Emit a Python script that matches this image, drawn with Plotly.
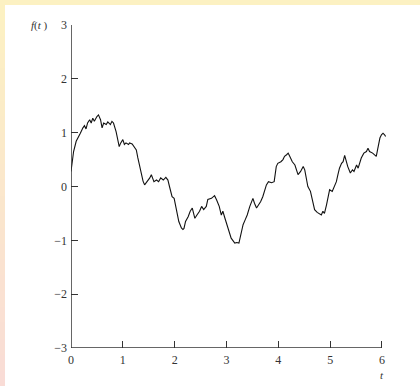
import plotly.graph_objects as go

# Sample path f(t) on 0 <= t <= 6
t_vals = [0.00, 0.05, 0.10, 0.14, 0.18, 0.23, 0.26, 0.29, 0.32, 0.36, 0.39, 0.42, 0.45,
          0.50, 0.53, 0.57, 0.60, 0.63, 0.68, 0.71, 0.76, 0.79, 0.82, 0.87, 0.90, 0.93,
          0.96, 1.00, 1.03, 1.06, 1.11, 1.13, 1.18, 1.23, 1.26, 1.29, 1.33, 1.36, 1.39,
          1.42, 1.47, 1.52, 1.55, 1.60, 1.65, 1.69, 1.73, 1.78, 1.83, 1.87, 1.90, 1.95,
          1.99, 2.03, 2.08, 2.13, 2.16, 2.18, 2.21, 2.26, 2.30, 2.34, 2.39, 2.43, 2.48,
          2.52, 2.56, 2.61, 2.64, 2.71, 2.77, 2.81, 2.86, 2.90, 2.93, 2.97, 3.03, 3.09,
          3.16, 3.20, 3.24, 3.29, 3.32, 3.36, 3.40, 3.45, 3.48, 3.51, 3.54, 3.58, 3.62,
          3.66, 3.70, 3.74, 3.77, 3.81, 3.87, 3.92, 3.94, 3.96, 3.99, 4.05, 4.09, 4.12,
          4.16, 4.19, 4.22, 4.27, 4.32, 4.38, 4.43, 4.48, 4.51, 4.54, 4.57, 4.62, 4.66,
          4.70, 4.75, 4.79, 4.83, 4.86, 4.89, 4.93, 4.96, 4.99, 5.04, 5.09, 5.12, 5.15,
          5.18, 5.22, 5.25, 5.28, 5.31, 5.34, 5.39, 5.43, 5.46, 5.51, 5.54, 5.57, 5.60,
          5.65, 5.70, 5.73, 5.76, 5.82, 5.86, 5.89, 5.92, 5.96, 5.99, 6.02, 6.05, 6.07]
f_vals = [0.28, 0.65, 0.84, 0.93, 0.99, 1.09, 1.13, 1.07, 1.18, 1.24, 1.18, 1.27, 1.21,
          1.30, 1.33, 1.24, 1.09, 1.18, 1.15, 1.20, 1.15, 1.21, 1.18, 1.02, 0.90, 0.74,
          0.81, 0.87, 0.78, 0.81, 0.78, 0.81, 0.79, 0.71, 0.68, 0.53, 0.37, 0.19, 0.10,
          0.03, 0.09, 0.16, 0.22, 0.09, 0.12, 0.09, 0.16, 0.12, 0.17, 0.12, 0.00, -0.19,
          -0.22, -0.40, -0.65, -0.77, -0.80, -0.78, -0.65, -0.56, -0.46, -0.40, -0.59, -0.53, -0.46,
          -0.37, -0.43, -0.37, -0.24, -0.22, -0.17, -0.25, -0.37, -0.53, -0.46, -0.59, -0.80, -0.96,
          -1.05, -1.04, -1.05, -0.84, -0.71, -0.62, -0.53, -0.37, -0.31, -0.22, -0.31, -0.40, -0.34,
          -0.28, -0.19, -0.06, 0.03, 0.09, 0.07, 0.09, 0.22, 0.37, 0.43, 0.46, 0.50, 0.56,
          0.59, 0.62, 0.56, 0.46, 0.40, 0.22, 0.28, 0.37, 0.31, 0.16, 0.00, -0.09, -0.25,
          -0.43, -0.48, -0.50, -0.53, -0.46, -0.50, -0.34, -0.19, -0.06, -0.09, 0.03, 0.09, 0.22,
          0.34, 0.43, 0.46, 0.58, 0.46, 0.37, 0.25, 0.31, 0.28, 0.40, 0.34, 0.43, 0.53,
          0.62, 0.65, 0.71, 0.65, 0.62, 0.59, 0.56, 0.71, 0.90, 0.96, 0.99, 0.96, 0.93]

x_ticks = [0, 1, 2, 3, 4, 5, 6]
y_ticks = [-3, -2, -1, 0, 1, 2, 3]

W, H = 420, 386
L, R, T, B = 71, 34, 25, 38
pw, ph = W - L - R, H - T - B
x_max = pw / 51.83

AX = "#333333"
SERIF = "Liberation Serif, Times New Roman, serif"


def px_to_paper_x(px):
    return (px - L) / pw


def py_to_paper_y(py):
    return (H - B - py) / ph


fig = go.Figure()
fig.add_trace(go.Scatter(x=t_vals, y=f_vals, mode="lines",
                         line=dict(color="#111111", width=1.1),
                         hoverinfo="skip", showlegend=False))

shapes = []
# page band: pale yellow top edge, left edge shading from yellow to pink
shapes.append(dict(type="rect", xref="paper", yref="paper", layer="below",
                   x0=px_to_paper_x(0), x1=px_to_paper_x(W),
                   y0=py_to_paper_y(H), y1=py_to_paper_y(0),
                   fillcolor="#FCF1C2", line=dict(width=0)))
n_strips = 24
c0 = (252, 241, 194)
c1 = (249, 220, 214)
for i in range(n_strips):
    a = i / (n_strips - 1)
    col = tuple(round(c0[k] + (c1[k] - c0[k]) * a) for k in range(3))
    y_top = 5 + (H - 5) * i / n_strips
    y_bot = 5 + (H - 5) * (i + 1) / n_strips
    shapes.append(dict(type="rect", xref="paper", yref="paper", layer="below",
                       x0=px_to_paper_x(0), x1=px_to_paper_x(5),
                       y0=py_to_paper_y(y_bot + 0.5), y1=py_to_paper_y(y_top),
                       fillcolor="rgb(%d,%d,%d)" % col, line=dict(width=0)))
shapes.append(dict(type="rect", xref="paper", yref="paper", layer="below",
                   x0=px_to_paper_x(5), x1=px_to_paper_x(W),
                   y0=py_to_paper_y(H), y1=py_to_paper_y(5),
                   fillcolor="white", line=dict(width=0)))
# axis lines
shapes.append(dict(type="line", xref="x", yref="y", x0=0, x1=6, y0=-3, y1=-3,
                   line=dict(color=AX, width=1.5)))
shapes.append(dict(type="line", xref="x", yref="y", x0=0, x1=0, y0=-3, y1=3,
                   line=dict(color=AX, width=1.5)))

fig.update_layout(
    width=W, height=H,
    margin=dict(l=L, r=R, t=T, b=B, pad=0),
    paper_bgcolor="white", plot_bgcolor="rgba(0,0,0,0)",
    shapes=shapes,
    xaxis=dict(range=[0, x_max], tickvals=x_ticks, ticktext=[str(v) for v in x_ticks],
               ticks="inside", ticklen=7, tickwidth=1.2, tickcolor=AX,
               ticklabelstandoff=3,
               showline=False, showgrid=False, zeroline=False,
               tickfont=dict(family=SERIF, size=12, color=AX), fixedrange=True),
    yaxis=dict(range=[-3, 3], tickvals=y_ticks,
               ticks="inside", ticklen=7, tickwidth=1.2, tickcolor=AX,
               ticklabelstandoff=3,
               showline=False, showgrid=False, zeroline=False,
               tickfont=dict(family=SERIF, size=12, color=AX), fixedrange=True),
    annotations=[
        dict(text="<i>f</i>(<i>t</i> )", x=px_to_paper_x(39.5), y=py_to_paper_y(25),
             xref="paper", yref="paper", xanchor="center", yanchor="middle",
             showarrow=False, font=dict(family=SERIF, size=11, color=AX)),
        dict(text="<i>t</i>", x=px_to_paper_x(382), y=py_to_paper_y(375),
             xref="paper", yref="paper", xanchor="center", yanchor="middle",
             showarrow=False, font=dict(family=SERIF, size=11, color=AX)),
    ],
    showlegend=False,
)

fig.write_html("out.html")
